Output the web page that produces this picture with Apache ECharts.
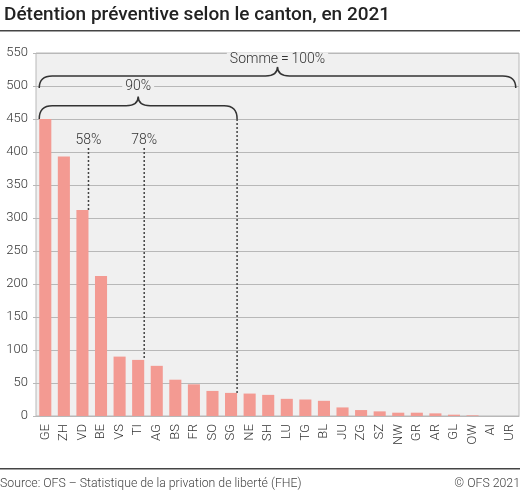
<!DOCTYPE html>
<html>
<head>
<meta charset="utf-8">
<script src="https://cdn.jsdelivr.net/npm/echarts@6/dist/echarts.min.js"></script>
<style>
  html, body { margin: 0; padding: 0; background: #fff; }
  #chart { width: 520px; height: 494px; }
</style>
</head>
<body>
<div id="chart"></div>
<script>
const cantons = ["GE", "ZH", "VD", "BE", "VS", "TI", "AG", "BS", "FR", "SO", "SG", "NE", "SH",
  "LU", "TG", "BL", "JU", "ZG", "SZ", "NW", "GR", "AR", "GL", "OW", "AI", "UR"];
const detenus = [450, 393, 312, 212, 90, 85, 76, 55, 48, 38, 35, 34, 32,
  26, 25, 23, 13, 9, 7, 5, 5, 4, 2, 1, 0, 0];
const yTicks = [0, 50, 100, 150, 200, 250, 300, 350, 400, 450, 500, 550];

// cumulative share markers: [index of canton, top of dotted line, label]
const cumulMarks = [[2, 406, "58%"], [5, 406, "78%"]];
// braces: [from index, to index, end level, line level, peak level, label level, label]
const braces = [
  [0, 10, 450, 470, 484, 500, "90%"],
  [0, 25, 497, 515, 529, 540, "Somme\u2009=\u2009100%"]
];

const FONT = "Roboto";
const BAR_RATIO = 0.65;
const chart = echarts.init(document.getElementById("chart"));

function barEdge(api, idx, val, side) {
  const p = api.coord([idx, val]);
  const bw = api.size([1, 0])[0];
  return [p[0] + side * bw * BAR_RATIO / 2, p[1]];
}

chart.setOption({
  animation: false,
  title: {
    text: "Détention préventive selon le canton, en 2021",
    left: -1, top: 1,
    textStyle: { fontFamily: FONT, fontSize: 19, fontWeight: 500, color: "#222" }
  },
  graphic: [
    { type: "rect", shape: { x: 0, y: 30, width: 520, height: 1.5 }, style: { fill: "#444" } },
    { type: "rect", shape: { x: 0, y: 468, width: 520, height: 1.5 }, style: { fill: "#444" } },
    { type: "text", left: 0, top: 478,
      style: { text: "Source: OFS – Statistique de la privation de liberté (FHE)", font: "300 12.3px Roboto", fill: "#444" } },
    { type: "text", right: 0, top: 478,
      style: { text: "© OFS 2021", font: "300 12.3px Roboto", fill: "#444" } }
  ],
  grid: {
    left: 36, right: 1, top: 53, height: 363,
    show: true, backgroundColor: "#f0f0f0", borderColor: "#b8b8b8", borderWidth: 1
  },
  xAxis: {
    type: "category",
    data: cantons,
    axisTick: { show: false },
    axisLine: { lineStyle: { color: "#b8b8b8" } },
    axisLabel: { rotate: 90, interval: 0, margin: 8, fontFamily: FONT, fontWeight: 300, fontSize: 13, color: "#333" }
  },
  yAxis: {
    type: "value",
    min: yTicks[0], max: yTicks[yTicks.length - 1], interval: 50,
    axisLine: { show: false },
    axisTick: { show: true, length: 3, lineStyle: { color: "#b8b8b8" } },
    splitLine: { lineStyle: { color: "#b8b8b8", width: 1 } },
    axisLabel: { margin: 8, fontFamily: FONT, fontWeight: 300, fontSize: 13, color: "#333" }
  },
  series: [
    {
      type: "bar",
      data: detenus,
      barWidth: (BAR_RATIO * 100) + "%",
      itemStyle: { color: "#f39a92" }
    },
    {
      type: "custom",
      data: cumulMarks,
      z: 5,
      renderItem(params, api) {
        const idx = api.value(0);
        const bottom = barEdge(api, idx, detenus[idx], 1);
        const top = barEdge(api, idx, api.value(1), 1);
        return {
          type: "group",
          children: [
            { type: "line", shape: { x1: top[0], y1: top[1], x2: bottom[0], y2: bottom[1] },
              style: { stroke: "#444", lineWidth: 1.5, lineDash: [2, 2] } },
            { type: "text", x: top[0], y: top[1] - 1,
              style: { text: cumulMarks[params.dataIndex][2], font: "300 14px Roboto", fill: "#333",
                align: "center", verticalAlign: "bottom" } }
          ]
        };
      }
    },
    {
      type: "custom",
      data: braces,
      z: 5,
      renderItem(params, api) {
        const b = braces[params.dataIndex];
        const l = barEdge(api, b[0], b[2], -1);
        const r = barEdge(api, b[1], b[2], 1);
        const yL = api.coord([0, b[3]])[1];
        const yP = api.coord([0, b[4]])[1];
        const yT = api.coord([0, b[5]])[1];
        const px = (l[0] + r[0]) / 2;
        const rad = 13, r2 = 12;
        const path = "M" + l[0] + "," + l[1] +
          " Q" + l[0] + "," + yL + " " + (l[0] + rad) + "," + yL +
          " L" + (px - r2) + "," + yL +
          " Q" + px + "," + yL + " " + px + "," + yP +
          " Q" + px + "," + yL + " " + (px + r2) + "," + yL +
          " L" + (r[0] - rad) + "," + yL +
          " Q" + r[0] + "," + yL + " " + r[0] + "," + r[1];
        const children = [
          { type: "path", shape: { pathData: path },
            style: { stroke: "#333", lineWidth: 1.5, fill: null } },
          { type: "text", x: px, y: yT,
            style: { text: b[6], font: "300 14px Roboto", fill: "#333", align: "center",
              verticalAlign: "middle", backgroundColor: "#f0f0f0", padding: [0, 3] } }
        ];
        if (b[1] < cantons.length - 1) {
          const bar = barEdge(api, b[1], detenus[b[1]], 1);
          children.push({ type: "line", shape: { x1: r[0], y1: r[1], x2: bar[0], y2: bar[1] },
            style: { stroke: "#444", lineWidth: 1.5, lineDash: [2, 2] } });
        }
        return { type: "group", children: children };
      }
    }
  ]
});
</script>
</body>
</html>
